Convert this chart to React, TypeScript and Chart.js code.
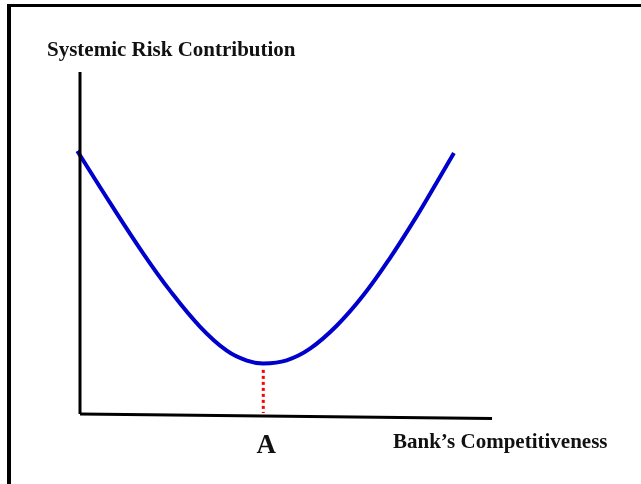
import React, { useEffect, useRef } from "react";
import { Chart, registerables } from "chart.js";

Chart.register(...registerables);

// Abstract units: competitiveness (x) 0..100, systemic risk contribution (y) 0..100
const competitiveness = [-0.66, 7.3, 15.4, 22.0, 29.3, 35.8, 40.7, 44.7, 50.4, 56.1, 62.6, 69.1, 75.6, 82.1, 87.0, 91.2];
const riskContribution = [76.9, 61.8, 47.0, 36.0, 25.5, 18.5, 15.6, 14.8, 15.7, 19.1, 25.8, 34.7, 45.6, 57.8, 67.7, 76.3];

const pointALabel = "A";
const pointAX = 44.7;
const pointADropTop = 12.9;

const yAxisLabel = "Systemic Risk Contribution";
const xAxisLabel = "Bank\u2019s Competitiveness";

const xAxisEnd = [100.5, -1.3];
const yAxisTop = 100;

const framePlugin = {
  id: "framePlugin",
  beforeDraw(chart: any) {
    const ctx = chart.ctx;
    ctx.save();
    ctx.fillStyle = "#ffffff";
    ctx.fillRect(0, 0, chart.width, chart.height);
    ctx.fillStyle = "#000000";
    ctx.fillRect(7, 4, 4, chart.height - 4);
    ctx.fillRect(7, 4, chart.width - 7, 3);
    ctx.restore();
  },
  afterDraw(chart: any) {
    const ctx = chart.ctx;
    const xs = chart.scales.x;
    ctx.save();
    ctx.fillStyle = "#111111";
    ctx.textBaseline = "alphabetic";
    ctx.textAlign = "left";
    ctx.font = 'bold 21px "Liberation Serif"';
    ctx.fillText(yAxisLabel, 47, 56);
    ctx.fillText(xAxisLabel, 393, 448);
    ctx.font = 'bold 27px "Liberation Serif"';
    ctx.textAlign = "center";
    ctx.fillText(pointALabel, xs.getPixelForValue(pointAX) + 3, 453);
    ctx.restore();
  },
};

export default function App() {
  const ref = useRef<HTMLCanvasElement | null>(null);
  useEffect(() => {
    if (!ref.current) return;
    const curve = competitiveness.map((x, i) => ({ x, y: riskContribution[i] }));
    const chart = new Chart(ref.current, {
      type: "scatter",
      data: {
        datasets: [
          {
            label: "yAxis",
            data: [{ x: 0, y: 0 }, { x: 0, y: yAxisTop }],
            showLine: true,
            borderColor: "#000000",
            borderWidth: 3,
            pointRadius: 0,
            clip: false as any,
          },
          {
            label: "xAxis",
            data: [{ x: 0, y: 0 }, { x: xAxisEnd[0], y: xAxisEnd[1] }],
            showLine: true,
            borderColor: "#000000",
            borderWidth: 3,
            pointRadius: 0,
            clip: false as any,
          },
          {
            label: "dropA",
            data: [{ x: pointAX, y: pointADropTop }, { x: pointAX, y: 0.3 }],
            showLine: true,
            borderColor: "#ff0000",
            borderWidth: 3,
            borderDash: [3, 3],
            pointRadius: 0,
            clip: false as any,
          },
          {
            label: "risk",
            data: curve,
            showLine: true,
            borderColor: "#0000cc",
            borderWidth: 4,
            pointRadius: 0,
            tension: 0.4,
            clip: false as any,
          },
        ],
      },
      options: {
        animation: false,
        responsive: false,
        events: [],
        layout: { padding: { left: 80, right: 151, top: 72, bottom: 70 } },
        plugins: { legend: { display: false }, tooltip: { enabled: false } },
        scales: {
          x: { type: "linear", display: false, min: 0, max: 100 },
          y: { type: "linear", display: false, min: 0, max: 100 },
        },
      },
      plugins: [framePlugin],
    });
    return () => chart.destroy();
  }, []);
  return (
    <div style={{ position: "absolute", left: 0, top: 0, width: 641, height: 484 }}>
      <canvas ref={ref} width={641} height={484} style={{ display: "block" }} />
    </div>
  );
}
